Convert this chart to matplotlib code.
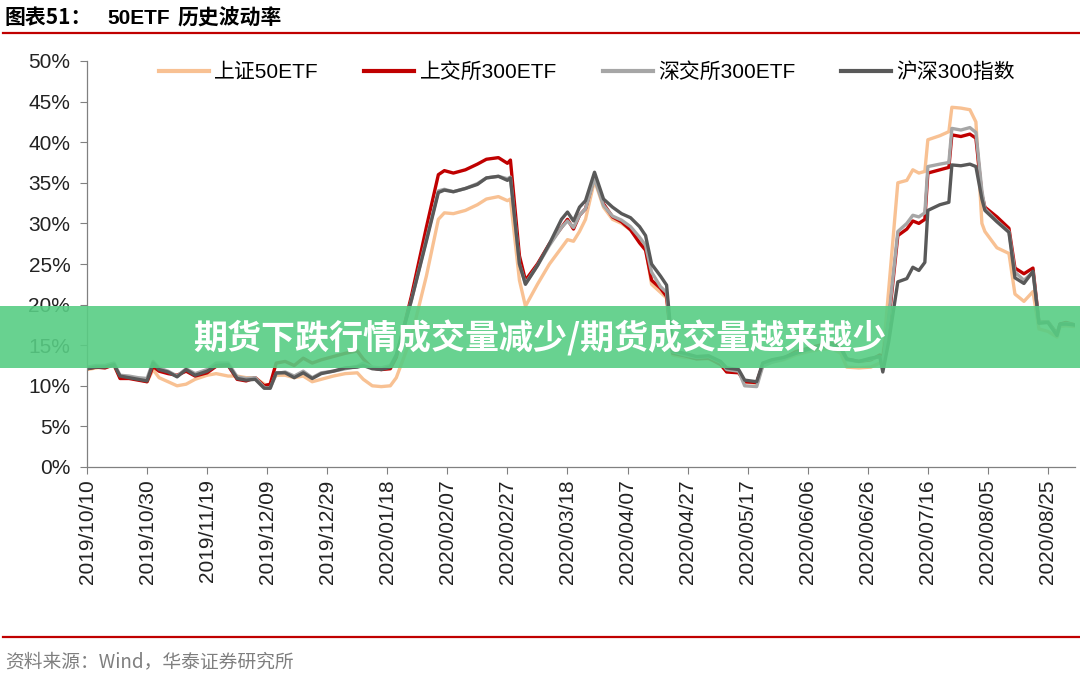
import datetime
import numpy as np
import matplotlib as mpl
mpl.use('Agg')
import matplotlib.pyplot as plt
import matplotlib.dates as mdates
from matplotlib.patches import Rectangle
from matplotlib.lines import Line2D
from matplotlib.ticker import PercentFormatter

plt.rcParams['font.family'] = ['Liberation Sans', 'Noto Sans CJK SC', 'DejaVu Sans']

start = datetime.date(2019, 10, 10)

# days after 2019/10/10
day_offsets = [0, 3, 6, 9, 11, 14, 17, 20, 22, 24, 27, 30, 33, 36, 40, 43, 47, 50, 53, 56,
               59, 61, 63, 66, 69, 72, 75, 78, 82, 86, 90, 92, 95, 98, 101, 103, 108, 113, 117, 119,
               122, 126, 130, 133, 137, 140, 141, 144, 146, 150, 154, 158, 160, 162, 164, 166, 169, 172, 175, 178,
               181, 184, 186, 188, 191, 193, 195, 199, 203, 207, 211, 213, 217, 219, 223, 225, 228, 232, 236, 240,
               244, 248, 251, 253, 257, 261, 264, 265, 267, 270, 273, 275, 277, 279, 280, 284, 287, 288, 291, 294,
               296, 298, 299, 303, 307, 309, 312, 315, 317, 320, 323, 324, 326, 329]

# volatility, %
etf50_sh = [12.0, 12.2, 12.4, 12.5, 11.0, 11.0, 10.8, 10.5, 12.0, 11.0, 10.5, 10.0, 10.2, 10.8, 11.3, 11.5, 11.2, 11.2, 11.0, 11.0,
            10.2, 10.0, 11.3, 11.3, 11.0, 11.2, 10.5, 10.8, 11.2, 11.5, 11.6, 10.8, 10.0, 9.9, 10.0, 11.0, 16.0, 23.5, 30.5, 31.3,
            31.2, 31.6, 32.3, 33.0, 33.3, 32.8, 33.0, 23.0, 19.8, 22.5, 25.0, 27.0, 28.0, 27.8, 29.0, 30.5, 35.3, 32.0, 30.5, 30.0,
            29.2, 28.0, 27.0, 22.5, 21.5, 20.8, 13.8, 13.5, 13.4, 13.3, 12.8, 12.0, 11.8, 10.5, 10.3, 12.5, 12.9, 13.2, 13.8, 14.2,
            14.5, 14.6, 14.0, 12.3, 12.2, 12.3, 12.8, 13.5, 22.0, 35.0, 35.3, 36.6, 36.2, 36.4, 40.3, 40.8, 41.3, 44.3, 44.2, 44.0,
            42.5, 30.0, 29.0, 27.0, 26.3, 21.3, 20.4, 21.6, 17.0, 16.7, 16.0, 17.3, 17.4, 17.3]
etf300_sh = [12.1, 12.3, 12.2, 12.6, 10.9, 10.9, 10.7, 10.5, 12.4, 11.8, 11.5, 11.3, 11.8, 11.2, 11.6, 12.4, 12.5, 10.8, 10.6, 11.0,
             10.0, 10.2, 12.8, 13.0, 12.5, 13.4, 12.8, 13.2, 13.6, 14.0, 14.3, 13.3, 12.2, 12.0, 12.1, 13.5, 21.0, 29.5, 36.0, 36.5,
             36.2, 36.6, 37.3, 37.9, 38.1, 37.4, 37.8, 26.0, 23.0, 25.0, 27.5, 29.5, 30.5, 29.3, 31.0, 31.8, 35.8, 32.4, 30.8, 30.2,
             29.2, 27.6, 26.7, 23.0, 22.0, 21.0, 14.0, 13.7, 13.3, 13.4, 12.6, 11.7, 11.6, 10.5, 10.4, 12.6, 13.1, 13.4, 14.2, 14.6,
             15.0, 15.2, 14.8, 13.3, 13.0, 13.2, 13.8, 13.5, 18.0, 28.5, 29.3, 30.3, 30.0, 30.5, 36.2, 36.6, 36.9, 40.9, 40.7, 41.0,
             40.5, 33.5, 32.0, 30.8, 29.4, 24.5, 23.8, 24.5, 17.8, 17.9, 16.4, 17.6, 17.8, 17.5]
etf300_sz = [12.3, 12.5, 12.5, 12.8, 11.3, 11.2, 11.0, 10.9, 13.0, 12.2, 11.8, 11.2, 12.1, 11.5, 12.0, 12.8, 12.8, 11.1, 10.9, 11.0,
             9.8, 9.7, 11.5, 11.7, 11.2, 11.8, 11.0, 11.6, 11.8, 12.1, 12.4, 12.8, 12.3, 12.2, 12.5, 13.8, 20.5, 28.0, 34.0, 34.2,
             33.9, 34.3, 34.9, 35.6, 35.8, 35.5, 35.7, 25.0, 22.6, 24.8, 27.3, 29.5, 30.3, 29.5, 31.0, 31.8, 35.5, 32.2, 30.9, 30.4,
             29.6, 28.3, 27.3, 24.0, 22.2, 21.5, 14.2, 13.8, 13.5, 13.6, 12.9, 12.0, 11.8, 10.0, 9.9, 12.4, 12.9, 13.3, 14.0, 14.4,
             14.8, 15.0, 14.6, 13.2, 13.0, 13.3, 13.6, 13.0, 18.5, 29.0, 30.0, 31.0, 30.8, 31.3, 37.0, 37.3, 37.5, 41.7, 41.5, 41.8,
             41.2, 34.0, 31.8, 30.3, 29.0, 24.0, 23.0, 24.0, 17.8, 17.9, 16.3, 17.5, 17.7, 17.5]
hs300_index = [12.1, 12.3, 12.3, 12.6, 11.2, 11.0, 10.8, 10.6, 12.8, 12.0, 11.7, 11.1, 12.0, 11.3, 11.8, 12.5, 12.6, 10.9, 10.7, 10.8,
               9.7, 9.7, 11.6, 11.6, 11.0, 11.6, 10.9, 11.5, 11.8, 12.2, 12.3, 12.5, 12.1, 12.0, 12.3, 13.8, 20.5, 27.8, 33.8, 34.1,
               33.9, 34.3, 34.8, 35.6, 35.8, 35.3, 35.6, 25.0, 22.5, 24.8, 27.5, 30.5, 31.4, 30.3, 32.0, 32.8, 36.3, 33.0, 32.0, 31.2,
               30.7, 29.6, 28.5, 25.0, 23.5, 22.4, 14.3, 14.0, 13.6, 13.7, 13.0, 12.2, 12.0, 10.7, 10.5, 12.8, 13.2, 13.5, 14.0, 14.5,
               14.8, 15.0, 14.6, 13.3, 13.0, 13.4, 13.6, 11.7, 15.5, 22.8, 23.2, 24.6, 24.2, 25.2, 31.6, 32.3, 32.6, 37.2, 37.1, 37.3,
               37.0, 33.0, 31.6, 30.2, 28.9, 23.3, 22.6, 24.1, 17.7, 17.8, 16.2, 17.6, 17.6, 17.5]

series_names = ['上证50ETF', '上交所300ETF', '深交所300ETF', '沪深300指数']
series_colors = ['#F8C193', '#C00000', '#A6A6A6', '#595959']

dates = [start + datetime.timedelta(days=d) for d in day_offsets]
tick_dates = [start + datetime.timedelta(days=20 * i) for i in range(17)]

fig = plt.figure(figsize=(10.8, 6.75), dpi=100)
ax = fig.add_axes([87 / 1080, 208 / 675, 988 / 1080, 406 / 675])

for vals, name, col in zip([etf50_sh, etf300_sh, etf300_sz, hs300_index], series_names, series_colors):
    ax.plot(dates, np.array(vals) / 100, color=col, lw=2.4, label=name, solid_joinstyle='round')

ax.set_ylim(0, 0.5)
ax.set_yticks(np.arange(0, 0.51, 0.05))
ax.yaxis.set_major_formatter(PercentFormatter(1.0, decimals=0))
ax.set_xlim(start, start + datetime.timedelta(days=329.5))
ax.set_xticks(tick_dates)
ax.xaxis.set_major_formatter(mdates.DateFormatter('%Y/%m/%d'))
plt.setp(ax.get_xticklabels(), rotation=90)
ax.tick_params(axis='both', labelsize=15, colors='#222222', length=5, width=0.8)
ax.tick_params(axis='both', color='#808080')
ax.tick_params(axis='y', pad=7)
ax.tick_params(axis='x', pad=4)
for s in ['top', 'right']:
    ax.spines[s].set_visible(False)
for s in ['left', 'bottom']:
    ax.spines[s].set_color('#808080')
    ax.spines[s].set_linewidth(0.9)

handles = [Line2D([], [], color=c, lw=3) for c in series_colors]
fig.legend(handles, series_names, loc='center left', bbox_to_anchor=(140 / 1080, 1 - 72 / 675),
           ncol=4, frameon=False, handlelength=2.4, handletextpad=0.25, columnspacing=2.2,
           prop={'family': ['Liberation Sans', 'Noto Sans CJK SC'], 'size': 15})

# header and footer
fig.text(4 / 1080, 1 - 18 / 675, '图表51：', fontsize=15, fontweight='bold', va='center',
         family=['Noto Sans CJK SC'])
fig.text(107 / 1080, 1 - 18 / 675, '50ETF', fontsize=15, fontweight='bold', va='center',
         family=['Liberation Sans'])
fig.text(177 / 1080, 1 - 18 / 675, '历史波动率', fontsize=15, fontweight='bold', va='center',
         family=['Noto Sans CJK SC'])
fig.add_artist(Line2D([3 / 1080, 1], [1 - 33 / 675, 1 - 33 / 675], color='#C00000', lw=1.6))
fig.add_artist(Line2D([3 / 1080, 1], [1 - 637 / 675, 1 - 637 / 675], color='#C00000', lw=1.6))
fig.text(5 / 1080, 1 - 662 / 675, '资料来源：Wind，华泰证券研究所', fontsize=13.5, color='#7F7F7F',
         va='center', family=['Noto Sans CJK SC', 'Liberation Sans'])

# green banner over the chart
fig.add_artist(Rectangle((0, 1 - 368 / 675), 1, 62 / 675, transform=fig.transFigure,
                         facecolor='#58CD84', alpha=0.9, edgecolor='none', zorder=10))
fig.text(540 / 1080, 1 - 338 / 675, '期货下跌行情成交量减少/期货成交量越来越少', fontsize=24.5,
         fontweight='bold', color='white', ha='center', va='center', zorder=11,
         family=['Noto Sans CJK SC'])

fig.savefig('out.png', dpi=100)
